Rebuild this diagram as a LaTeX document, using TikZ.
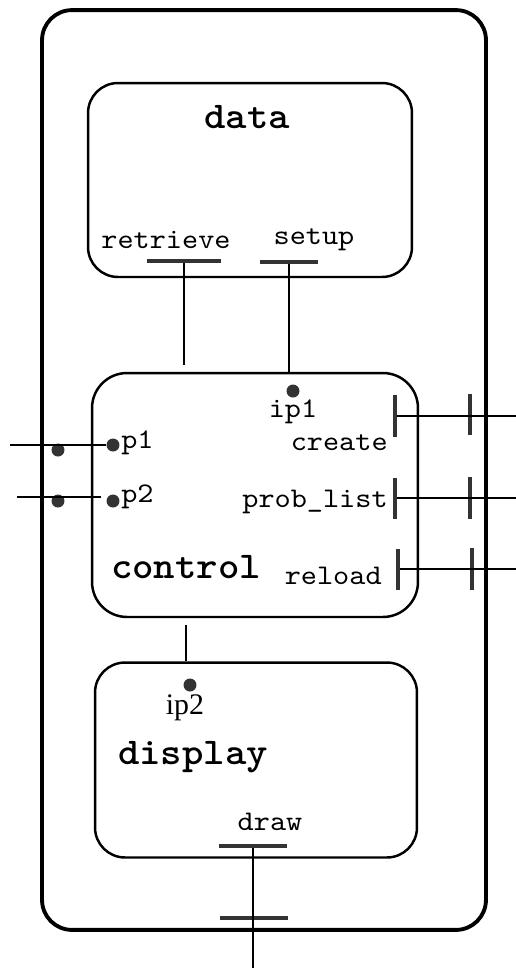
\documentclass[tikz,border=0pt]{standalone}
\usepackage{fontspec}
\setmainfont{Liberation Serif}
\setmonofont{lmmono10-regular.otf}[BoldFont=lmmonolt10-bold.otf,FakeStretch=1.08]
\begin{document}
\begin{tikzpicture}[x=0.02cm,y=-0.02cm,
  box/.style={draw,line width=1.4pt,rounded corners=0.6cm,inner sep=0pt},
  hbar/.style={fill=black!80,inner sep=0pt,minimum width=#1,minimum height=0.07cm},
  vbar/.style={fill=black!80,inner sep=0pt,minimum height=#1,minimum width=0.08cm},
  dot/.style={circle,fill=black!80,inner sep=0pt,minimum size=0.26cm},
  wire/.style={line width=1pt},
  port/.style={inner sep=0pt,font=\ttfamily\fontsize{16.2}{16}\selectfont},
  title/.style={inner sep=0pt,font=\ttfamily\bfseries\fontsize{21.5}{21}\selectfont}]
\useasboundingbox (0,0) rectangle (516,968);
\node[box,line width=2.2pt,minimum width=8.88cm,minimum height=18.4cm] (frame) at (264,470) {};
\coordinate (eR) at (516,0);
\coordinate (eB) at (0,968);
% data
\node[box,minimum width=6.48cm,minimum height=3.88cm] (data) at (250,180) {};
\node[title] (dataT) at (247,117) {data};
\node[port] (retrT) at (166,240) {retrieve};
\node[port] (setupT) at (314,240) {setup};
\node[hbar=1.5cm] (retr) at (184,261) {};
\node[hbar=1.18cm] (setup) at (289,262) {};
% control
\node[box,minimum width=6.52cm,minimum height=4.88cm,rounded corners=0.7cm] (control) at (255,495) {};
\node[title] (controlT) at (186,567) {control};
\coordinate (retrEnd) at (182,365);
\draw[wire] (retr) -- (retr |- retrEnd);
\draw[wire] (setup) -- (setup |- control.north);
\node[dot] (ip1) at (293,391) {};
\node[port] (ip1T) at (293,412) {ip1};
\coordinate (p1in) at (10,445);
\node[dot] (p1) at (113,445) {};
\node[dot] (p1o) at (58,450) {};
\node[port,anchor=west] (p1T) at (121,443) {p1};
\draw[wire] (p1in) -- (p1);
\coordinate (p2in) at (17,497);
\coordinate (p2end) at (101,497);
\node[dot] (p2) at (113,501) {};
\node[dot] (p2o) at (58,501) {};
\node[port,anchor=west] (p2T) at (121,497) {p2};
\draw[wire] (p2in) -- (p2end);
\node[port,anchor=east] (createT) at (388,443) {create};
\node[vbar=0.84cm] (create) at (395,416) {};
\node[vbar=0.82cm] (createX) at (470,414) {};
\draw[wire] (create) -- (create -| eR);
\node[port,anchor=east] (plistT) at (388,502) {prob\_list};
\node[vbar=0.82cm] (plist) at (395,498) {};
\node[vbar=0.84cm] (plistX) at (470,498) {};
\draw[wire] (plist) -- (plist -| eR);
\node[port,anchor=east] (reloadT) at (382,576) {reload};
\node[vbar=0.82cm] (reload) at (398,569) {};
\node[vbar=0.84cm] (reloadX) at (472,569) {};
\draw[wire] (reload) -- (reload -| eR);
% display
\node[box,minimum width=6.44cm,minimum height=3.9cm] (display) at (256,760) {};
\coordinate (cdTop) at (186,625);
\draw[wire] (cdTop) -- (cdTop |- display.north);
\node[dot] (ip2) at (190,685) {};
\node[inner sep=0pt,font=\fontsize{17}{17}\selectfont] (ip2T) at (185,708) {ip2};
\node[title] (displayT) at (193,757) {display};
\node[port] (drawT) at (270,822) {draw};
\node[hbar=1.36cm] (drawp) at (253,846) {};
\node[hbar=1.36cm] (drawX) at (254,918) {};
\draw[wire] (drawp) -- (drawp |- eB);
\end{tikzpicture}
\end{document}
